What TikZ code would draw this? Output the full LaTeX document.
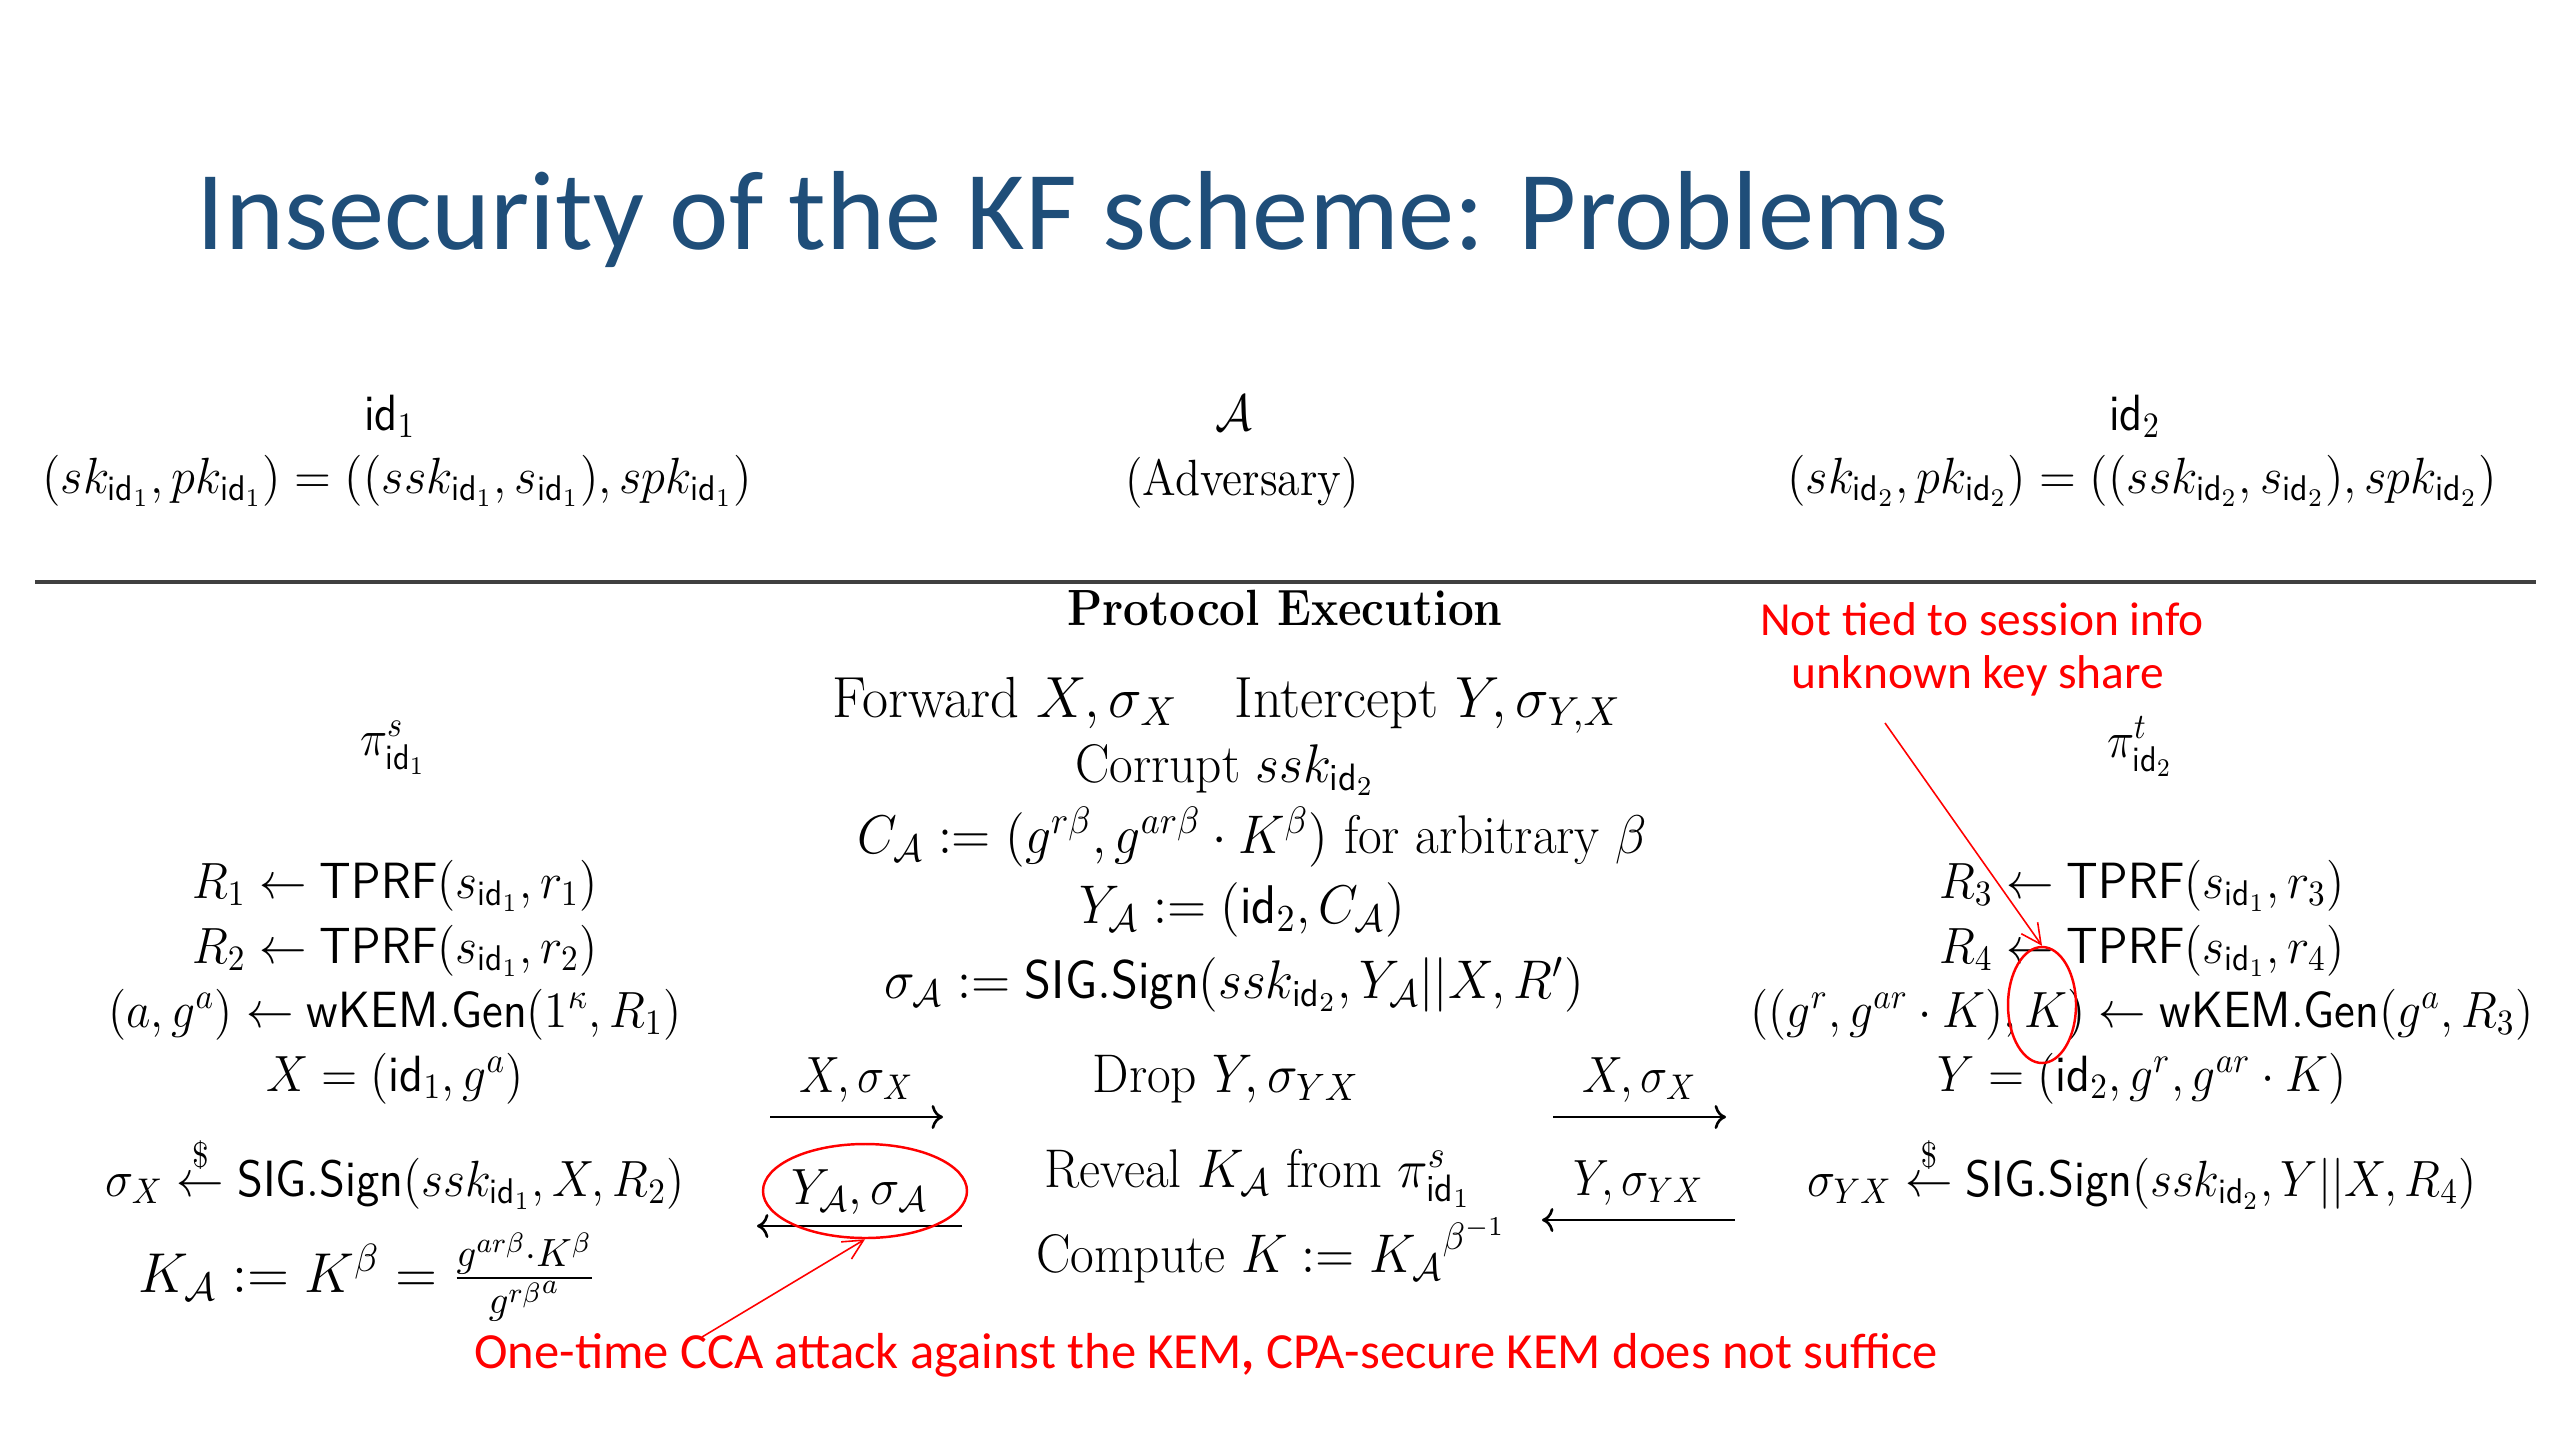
\RequirePackage{fix-cm}
\documentclass[tikz,border=0pt]{standalone}
\usepackage{amsmath}
\usepackage{fontspec}
\newfontfamily\notefont{Carlito}
\usetikzlibrary{positioning, arrows.meta, shapes.geometric}
\definecolor{titleblue}{RGB}{31,78,121}
\newcommand{\pid}[1]{\mathsf{id}_{#1}}

\begin{document}
\begin{tikzpicture}[x=1cm, y=1cm, >={Computer Modern Rightarrow},
  txt/.style={font=\fontsize{14.5}{17}\selectfont, xscale=0.9, anchor=base, inner sep=0pt},
  side/.style={txt, xscale=1.035},
  mid/.style={txt, font=\fontsize{15.5}{18}\selectfont, xscale=1.05},
  note/.style={font=\notefont\fontsize{13.5}{16}\selectfont, text=red, anchor=base, inner sep=0pt},
  msg/.style={->, line width=0.75pt},
  ring/.style={draw=red, ellipse, line width=0.7pt, inner sep=0pt},
  pointer/.style={draw=red, line width=0.45pt, -{Straight Barb[length=2mm, width=2mm]}}]
  \useasboundingbox (0,0) rectangle (25.6,-14.4);
  \node[anchor=base west, inner sep=0pt, text=titleblue, font=\notefont\fontsize{32}{38}\selectfont] (title) at (1.96,-2.49) {Insecurity of the KF scheme: Problems};
  % parties and keys
  \node[txt] (hdrA) at (3.90,-4.30) {$\pid1$};
  \node[txt, xscale=1.055] (keyA) at (3.97,-4.93) {$(sk_{\pid1},pk_{\pid1})=((ssk_{\pid1},s_{\pid1}),spk_{\pid1})$};
  \node[txt] (hdrAdv) at (12.34,-4.30) {$\mathcal{A}$};
  \node[txt] (advName) at (12.42,-4.95) {(Adversary)};
  \node[txt] (hdrB) at (21.35,-4.30) {$\pid2$};
  \node[txt, xscale=1.055] (keyB) at (21.42,-4.93) {$(sk_{\pid2},pk_{\pid2})=((ssk_{\pid2},s_{\pid2}),spk_{\pid2})$};
  \coordinate (ruleL) at (0.35,-5.82);
  \coordinate (ruleR) at (25.36,-5.82);
  \draw[line width=1.2pt, black!75] (ruleL) -- (ruleR);
  \node[txt] (proto) at (12.85,-6.25) {\textbf{Protocol Execution}};
  % initiator
  \node[txt] (piA) at (3.93,-7.55) {$\pi^s_{\pid1}$};
  \node[side] (r1) at (3.95,-8.98) {$R_1\leftarrow\mathsf{TPRF}(s_{\pid1},r_1)$};
  \node[side, below=0.65cm of r1.base, anchor=base] (r2) {$R_2\leftarrow\mathsf{TPRF}(s_{\pid1},r_2)$};
  \node[side, below=0.64cm of r2.base, anchor=base] (genA) {$(a,g^a)\leftarrow\mathsf{wKEM.Gen}(1^\kappa,R_1)$};
  \node[side, below=0.64cm of genA.base, anchor=base] (msgX) {$X=(\pid1,g^a)$};
  \node[side] (sigX) at (3.95,-11.96) {$\sigma_X\overset{\$}{\leftarrow}\mathsf{SIG.Sign}(ssk_{\pid1},X,R_2)$};
  \node[txt, font=\fontsize{16}{19}\selectfont, xscale=1.09] (keyAdv) at (3.67,-12.92) {$K_\mathcal{A}:=K^\beta=\tfrac{g^{ar\beta}\cdot K^\beta}{{g^{r\beta}}^{a}}$};
  % adversary
  \node[txt, font=\fontsize{16.5}{19}\selectfont, xscale=1.085] (fwd) at (12.27,-7.17) {Forward $X,\sigma_X$\quad Intercept $Y,\sigma_{Y,X}$};
  \node[mid] (corrupt) at (12.25,-7.82) {Corrupt $ssk_{\pid2}$};
  \node[mid] (ctA) at (12.52,-8.53) {$C_\mathcal{A}:=(g^{r\beta},g^{ar\beta}\cdot K^\beta)$ for arbitrary $\beta$};
  \node[mid] (yA) at (12.42,-9.23) {$Y_\mathcal{A}:=(\pid2,C_\mathcal{A})$};
  \node[mid] (sigAdv) at (12.34,-9.98) {$\sigma_\mathcal{A}:=\mathsf{SIG.Sign}(ssk_{\pid2},Y_\mathcal{A}||X,R')$};
  \node[mid] (drop) at (12.26,-10.92) {Drop $Y,\sigma_{YX}$};
  \node[mid] (reveal) at (12.58,-11.87) {Reveal $K_\mathcal{A}$ from $\pi^s_{\pid1}$};
  \node[mid] (compute) at (12.71,-12.72) {Compute $K:={K_\mathcal{A}}^{\beta^{-1}}$};
  % responder
  \node[txt] (piB) at (21.40,-7.57) {$\pi^t_{\pid2}$};
  \node[side] (r3) at (21.42,-8.98) {$R_3\leftarrow\mathsf{TPRF}(s_{\pid1},r_3)$};
  \node[side, below=0.65cm of r3.base, anchor=base] (r4) {$R_4\leftarrow\mathsf{TPRF}(s_{\pid1},r_4)$};
  \node[side, below=0.64cm of r4.base, anchor=base] (genB) {$((g^r,g^{ar}\cdot K),K)\leftarrow\mathsf{wKEM.Gen}(g^a,R_3)$};
  \node[side, below=0.64cm of genB.base, anchor=base] (msgY) {$Y=(\pid2,g^r,g^{ar}\cdot K)$};
  \node[side] (sigY) at (21.42,-11.96) {$\sigma_{YX}\overset{\$}{\leftarrow}\mathsf{SIG.Sign}(ssk_{\pid2},Y||X,R_4)$};
  % messages
  \coordinate (m1a) at (7.70,-11.17);  \coordinate (m1b) at (9.43,-11.17);
  \coordinate (m2a) at (9.62,-12.26);  \coordinate (m2b) at (7.57,-12.26);
  \coordinate (m3a) at (15.53,-11.17); \coordinate (m3b) at (17.26,-11.17);
  \coordinate (m4a) at (17.35,-12.20); \coordinate (m4b) at (15.42,-12.20);
  \draw[msg] (m1a) -- node[txt, yshift=2.5mm] (lblX1) {$X,\sigma_X$} (m1b);
  \draw[msg] (m2a) -- node[txt, xscale=1.08, yshift=2.2mm] (lblYA) {$Y_\mathcal{A},\sigma_\mathcal{A}$} (m2b);
  \draw[msg] (m3a) -- node[txt, yshift=2.5mm] (lblX2) {$X,\sigma_X$} (m3b);
  \draw[msg] (m4a) -- node[txt, yshift=2.5mm] (lblY) {$Y,\sigma_{YX}$} (m4b);
  % remarks
  \node[note] (tied) at (19.82,-6.35) {Not tied to session info};
  \node[note] (uks) at (19.78,-6.88) {unknown key share};
  \node[note, font=\notefont\fontsize{14.4}{17}\selectfont] (cca) at (12.06,-13.68) {One-time CCA attack against the KEM\textbf{,} CPA-secure KEM does not suffice};
  \node[ring, minimum width=2.04cm, minimum height=0.94cm] (ringA) at (8.65,-11.91) {};
  \node[ring, minimum width=0.68cm, minimum height=1.16cm] (ringK) at (20.42,-10.05) {};
  \coordinate (tailK) at (18.85,-7.23);
  \coordinate (tailA) at (7.02,-13.37);
  \draw[pointer] (tailK) -- (ringK.north);
  \draw[pointer] (tailA) -- (ringA.south);
\end{tikzpicture}
\end{document}
